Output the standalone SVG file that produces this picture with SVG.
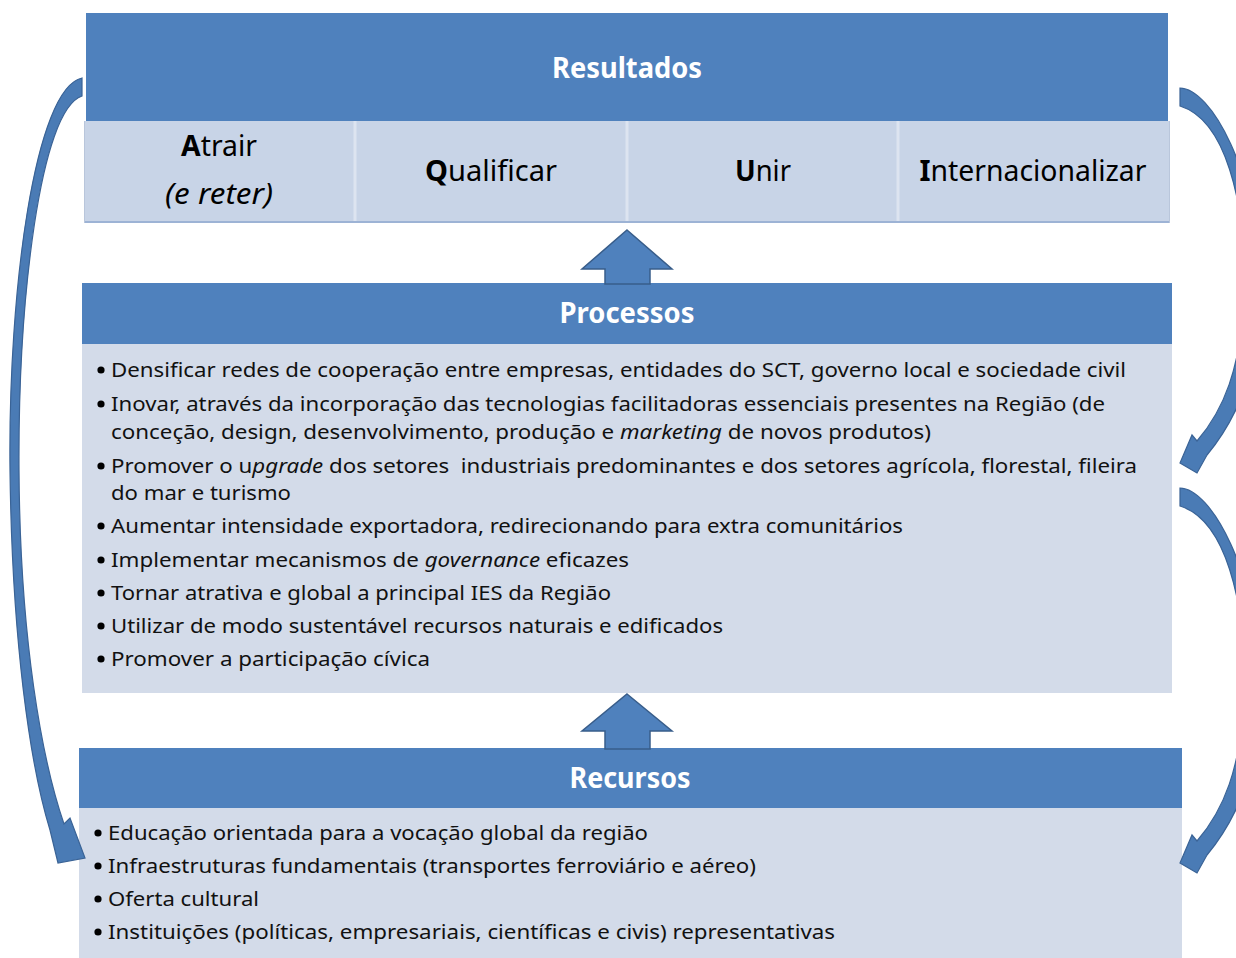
<svg xmlns="http://www.w3.org/2000/svg" width="1236" height="958" viewBox="0 0 1236 958">
<style>
.hdr{fill:#4F81BD}
.cell{fill:#C8D4E7}
.body{fill:#D3DBE9}
.ht{font-family:"Noto Sans","Open Sans",sans-serif;font-weight:bold;font-size:29px;fill:#FFFFFF;text-anchor:middle}
.ct{font-family:"Noto Sans","Open Sans",sans-serif;font-size:29px;fill:#000000;text-anchor:middle}
.bt{font-family:"Noto Sans","Open Sans",sans-serif;font-size:20px;fill:#111111}
.blt{fill:#000000}
.arr{fill:#4F81BD;stroke:#385D8A;stroke-width:1.5;stroke-linejoin:miter}
.curve{fill:#4A7BB5;stroke:#3A6396;stroke-width:1.2}
.sep{stroke:#DDE4F0;stroke-width:3}
</style>
<rect width="1236" height="958" fill="#FFFFFF"/>

<g id="resultados">
<rect x="84" y="121" width="1086" height="102" fill="#B9C6DB"/>
<rect class="hdr" x="86" y="13" width="1082" height="108"/>
<rect class="cell" x="85" y="121" width="1084" height="100"/>
<line class="sep" x1="355" y1="121" x2="355" y2="221"/>
<line class="sep" x1="627" y1="121" x2="627" y2="221"/>
<line class="sep" x1="898" y1="121" x2="898" y2="221"/>
<line x1="85" y1="222" x2="1169" y2="222" stroke="#9DB3D5" stroke-width="2"/>
<text class="ht" x="627" y="78" textLength="150" lengthAdjust="spacingAndGlyphs">Resultados</text>
<text class="ct" x="219" y="156" textLength="76" lengthAdjust="spacingAndGlyphs"><tspan font-weight="bold">A</tspan>trair</text>
<text class="ct" x="219" y="204" font-style="italic" textLength="108" lengthAdjust="spacingAndGlyphs">(e reter)</text>
<text class="ct" x="491" y="181" textLength="132" lengthAdjust="spacingAndGlyphs"><tspan font-weight="bold">Q</tspan>ualificar</text>
<text class="ct" x="763" y="181" textLength="56" lengthAdjust="spacingAndGlyphs"><tspan font-weight="bold">U</tspan>nir</text>
<text class="ct" x="1033" y="181" textLength="227" lengthAdjust="spacingAndGlyphs"><tspan font-weight="bold">I</tspan>nternacionalizar</text>
</g>

<g id="processos">
<rect class="body" x="82" y="344" width="1090" height="349"/>
<rect class="hdr" x="82" y="283" width="1090" height="61"/>
<text class="ht" x="627" y="323" textLength="135" lengthAdjust="spacingAndGlyphs">Processos</text>
<circle class="blt" cx="101" cy="370" r="3.6"/>
<text class="bt" x="111" y="377" textLength="1015" lengthAdjust="spacingAndGlyphs">Densificar redes de cooperação entre empresas, entidades do SCT, governo local e sociedade civil</text>
<circle class="blt" cx="101" cy="404" r="3.6"/>
<text class="bt" x="111" y="411" textLength="994" lengthAdjust="spacingAndGlyphs">Inovar, através da incorporação das tecnologias facilitadoras essenciais presentes na Região (de</text>
<text class="bt" x="111" y="439" textLength="820" lengthAdjust="spacingAndGlyphs">conceção, design, desenvolvimento, produção e <tspan font-style="italic">marketing</tspan> de novos produtos)</text>
<circle class="blt" cx="101" cy="466" r="3.6"/>
<text class="bt" x="111" y="473" xml:space="preserve" textLength="1026" lengthAdjust="spacingAndGlyphs">Promover o u<tspan font-style="italic">pgrade</tspan> dos setores  industriais predominantes e dos setores agrícola, florestal, fileira</text>
<text class="bt" x="111" y="500" textLength="180" lengthAdjust="spacingAndGlyphs">do mar e turismo</text>
<circle class="blt" cx="101" cy="526" r="3.6"/>
<text class="bt" x="111" y="533" textLength="792" lengthAdjust="spacingAndGlyphs">Aumentar intensidade exportadora, redirecionando para extra comunitários</text>
<circle class="blt" cx="101" cy="560" r="3.6"/>
<text class="bt" x="111" y="567" textLength="518" lengthAdjust="spacingAndGlyphs">Implementar mecanismos de <tspan font-style="italic">governance</tspan> eficazes</text>
<circle class="blt" cx="101" cy="593" r="3.6"/>
<text class="bt" x="111" y="600" textLength="500" lengthAdjust="spacingAndGlyphs">Tornar atrativa e global a principal IES da Região</text>
<circle class="blt" cx="101" cy="626" r="3.6"/>
<text class="bt" x="111" y="633" textLength="612" lengthAdjust="spacingAndGlyphs">Utilizar de modo sustentável recursos naturais e edificados</text>
<circle class="blt" cx="101" cy="659" r="3.6"/>
<text class="bt" x="111" y="666" textLength="319" lengthAdjust="spacingAndGlyphs">Promover a participação cívica</text>
</g>

<g id="recursos">
<rect class="body" x="79" y="808" width="1103" height="150"/>
<rect class="hdr" x="79" y="748" width="1103" height="60"/>
<text class="ht" x="630" y="788" textLength="121" lengthAdjust="spacingAndGlyphs">Recursos</text>
<circle class="blt" cx="98" cy="833" r="3.6"/>
<text class="bt" x="108" y="840" textLength="540" lengthAdjust="spacingAndGlyphs">Educação orientada para a vocação global da região</text>
<circle class="blt" cx="98" cy="866" r="3.6"/>
<text class="bt" x="108" y="873" textLength="648" lengthAdjust="spacingAndGlyphs">Infraestruturas fundamentais (transportes ferroviário e aéreo)</text>
<circle class="blt" cx="98" cy="899" r="3.6"/>
<text class="bt" x="108" y="906" textLength="151" lengthAdjust="spacingAndGlyphs">Oferta cultural</text>
<circle class="blt" cx="98" cy="932" r="3.6"/>
<text class="bt" x="108" y="939" textLength="727" lengthAdjust="spacingAndGlyphs">Instituições (políticas, empresariais, científicas e civis) representativas</text>
</g>

<g id="connectors">
<path class="arr" d="M627,230 L672,269 L650,269 L650,284 L605,284 L605,269 L582,269 Z"/>
<path class="arr" d="M627,694 L672,731 L650,731 L650,749 L605,749 L605,731 L582,731 Z"/>
<path class="curve" d="M82,78 C35,88 8,290 10,470 C12,640 30,765 50,830 L58,863 L85,858 L70,818 L64,824 C42,760 20,640 19,470 C18,300 40,110 82,96 Z"/>
<path class="curve" d="M1180,88 C1210,88 1258,170 1262,290 C1262,370 1232,425 1207,455 L1197,473 L1180,463 L1192,435 L1197,441 C1222,412 1242,370 1244,290 C1246,200 1225,120 1180,106 Z"/>
<path class="curve" transform="translate(0,400)" d="M1180,88 C1210,88 1258,170 1262,290 C1262,370 1232,425 1207,455 L1197,473 L1180,463 L1192,435 L1197,441 C1222,412 1242,370 1244,290 C1246,200 1225,120 1180,106 Z"/>
</g>
</svg>
